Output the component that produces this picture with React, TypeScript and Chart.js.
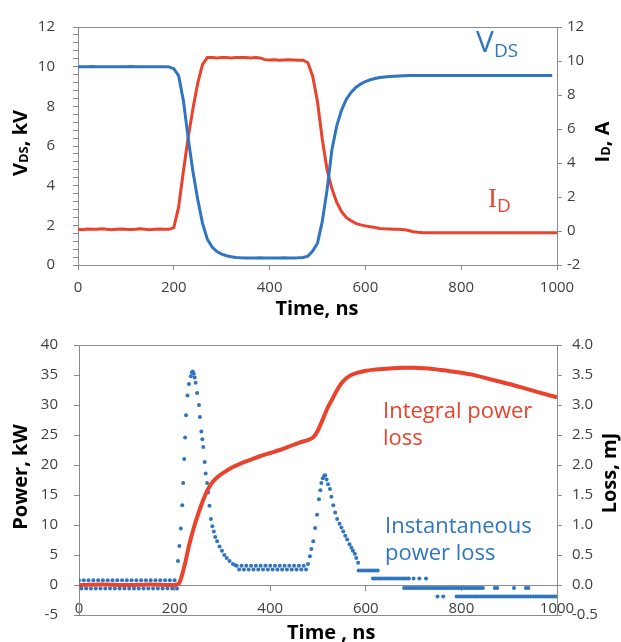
import React, { useEffect, useRef } from 'react';
import { Chart, registerables } from 'chart.js';
Chart.register(...registerables);

const FONT = '"Open Sans", "Noto Sans", sans-serif';
const BLUE = '#2f75c1';
const RED = '#ea432d';
const AXIS = '#8a8a8a';
const TICK_TEXT = '#404040';

// ---------- Top chart: switching waveforms (time step 10 ns) ----------
const waveTime = [
  0, 10, 20, 30, 40, 50, 60, 70, 80, 90, 100, 110, 120, 130, 140, 150, 160, 170, 180, 190,
  200, 210, 220, 230, 240, 250, 260, 270, 280, 290, 300, 310, 320, 330, 340, 350, 360, 370, 380, 390,
  400, 410, 420, 430, 440, 450, 460, 470, 480, 490, 500, 510, 520, 530, 540, 550, 560, 570, 580, 590,
  600, 610, 620, 630, 640, 650, 660, 670, 680, 690, 700, 710, 720, 730, 740, 750, 760, 770, 780, 790,
  800, 810, 820, 830, 840, 850, 860, 870, 880, 890, 900, 910, 920, 930, 940, 950, 960, 970, 980, 990, 1000,
];
const vdsKV = [
  10.0, 10.0, 10.0, 10.01, 10.0, 10.0, 10.0, 10.0, 10.0, 10.0, 10.0, 10.01, 10.0, 10.0, 10.0, 10.0, 10.0, 10.0, 10.0, 9.99,
  9.9, 9.55, 8.3, 6.4, 4.7, 3.3, 2.1, 1.3, 0.9, 0.68, 0.55, 0.47, 0.42, 0.38,
  0.36, 0.35, 0.35, 0.35, 0.36, 0.35, 0.35, 0.35, 0.35, 0.36, 0.35, 0.35, 0.36, 0.38,
  0.45, 0.7, 1.1, 2.2, 3.8, 5.8, 7.0, 7.8, 8.35, 8.7, 8.95, 9.12, 9.25, 9.34, 9.4, 9.45, 9.48, 9.5,
  9.52, 9.53, 9.54, 9.55, 9.55, 9.56, 9.55, 9.55, 9.56, 9.55, 9.55, 9.55, 9.56, 9.55, 9.55, 9.55, 9.56,
  9.55, 9.55, 9.55, 9.56, 9.55, 9.55, 9.55, 9.55, 9.56, 9.55, 9.55, 9.55, 9.56, 9.55, 9.55, 9.55, 9.55,
];
const idA = [
  0.1, 0.08, 0.12, 0.1, 0.1, 0.13, 0.1, 0.08, 0.1, 0.12, 0.1, 0.09, 0.1, 0.13, 0.1, 0.08, 0.1, 0.12, 0.1, 0.1,
  0.2, 1.4, 3.5, 5.5, 7.2, 8.7, 9.8, 10.2,
  10.2, 10.17, 10.2, 10.2, 10.17, 10.2, 10.2, 10.2, 10.17, 10.2, 10.18,
  10.08, 10.06, 10.07, 10.04, 10.06, 10.07, 10.06, 10.04, 10.05,
  9.9, 9.1, 7.6, 5.4, 3.6, 2.5, 1.7, 1.15, 0.8, 0.6, 0.45, 0.36, 0.3, 0.25, 0.2,
  0.15, 0.13, 0.12, 0.1, 0.1, 0.08, 0.03,
  -0.05, -0.08, -0.1, -0.1, -0.1, -0.11, -0.1, -0.1, -0.1, -0.11, -0.1, -0.1, -0.1, -0.1, -0.11, -0.1,
  -0.1, -0.1, -0.11, -0.1, -0.1, -0.1, -0.1, -0.11, -0.1, -0.1, -0.1, -0.1, -0.11, -0.1, -0.1,
];

// ---------- Bottom chart: integral loss (mJ) ----------
const lossTime = [
  0, 50, 100, 150, 200, 210, 220, 230, 240, 250, 260, 270, 280, 290, 300,
  320, 340, 360, 380, 400, 420, 440, 460, 480,
  490, 500, 510, 520, 530, 540, 550, 560, 570, 580,
  600, 620, 650, 680, 700, 740, 780, 820, 860, 900, 940, 980, 1000,
];
const lossMJ = [
  0.0, 0.01, 0.0, 0.01, 0.0, 0.04, 0.3, 0.65, 0.95, 1.2, 1.42, 1.6, 1.72, 1.8, 1.86,
  1.96, 2.03, 2.09, 2.15, 2.2, 2.25, 2.31, 2.37, 2.42,
  2.46, 2.58, 2.76, 2.95, 3.1, 3.25, 3.37, 3.45, 3.5, 3.53,
  3.57, 3.59, 3.61, 3.62, 3.62, 3.6, 3.56, 3.51, 3.43, 3.35, 3.26, 3.17, 3.13,
];

// ---------- Bottom chart: instantaneous power (kW), scattered samples ----------
const offTime = [
  0, 5, 10, 15, 20, 25, 30, 35, 40, 45, 50, 55, 60, 65, 70, 75, 80, 85, 90, 95, 100,
  105, 110, 115, 120, 125, 130, 135, 140, 145, 150, 155, 160, 165, 170, 175, 180, 185, 190, 195, 200, 205,
];
const offKW = [
  0.8, -0.6, 0.8, -0.6, 0.8, -0.6, 0.8, -0.6, 0.8, -0.6, 0.8, -0.6, 0.8, -0.6, 0.8, -0.6, 0.8, -0.6, 0.8, -0.6, 0.8,
  -0.6, 0.8, -0.6, 0.8, -0.6, 0.8, -0.6, 0.8, -0.6, 0.8, -0.6, 0.8, -0.6, 0.8, -0.6, 0.8, -0.6, 0.8, -0.6, 0.8, -0.6,
];
const turnOnTime = [
  207, 210, 213, 216, 218, 220, 222, 224, 227, 230, 234, 236, 238, 240, 242, 244, 247, 251, 253, 256,
  258, 260, 263, 265, 268, 270, 273, 276, 279, 282, 285, 289, 294, 299, 304, 309, 315, 322, 327,
];
const turnOnKW = [
  4, 6.5, 9.4, 13.3, 17, 21, 24.6, 28.3, 31.6, 33.5, 34.8, 35.4, 35.6, 35.2, 34.6, 33.7, 32, 30, 28, 25.6,
  24.3, 23, 20.5, 18.6, 17, 15.4, 13.2, 11, 9.8, 8.9, 8, 7.3, 6.4, 5.7, 5.0, 4.5, 4.0, 3.5, 3.3,
];
const onTime = [
  330, 335, 340, 345, 350, 355, 360, 365, 370, 375, 380, 385, 390, 395, 400,
  405, 410, 415, 420, 425, 430, 435, 440, 445, 450, 455, 460, 465, 470, 475,
];
const onKW = [
  3.2, 2.6, 3.2, 2.6, 3.2, 2.6, 3.2, 2.6, 3.2, 2.6, 3.2, 2.6, 3.2, 2.6, 3.2,
  2.6, 3.2, 2.6, 3.2, 2.6, 3.2, 2.6, 3.2, 2.6, 3.2, 2.6, 3.2, 2.6, 3.2, 2.6,
];
const turnOffTime = [
  479, 483, 486, 490, 494, 498, 502, 505, 507, 510, 513, 515, 518, 521, 525,
  528, 532, 536, 540, 545, 549, 553, 557, 561, 566, 570, 573, 577, 580, 584,
];
const turnOffKW = [
  3.5, 4.8, 6, 7.3, 9.5, 11.7, 14.3, 15.8, 17, 17.8, 18.2, 18.3, 17.6, 16.8, 16,
  14.7, 13.3, 12.1, 11, 10.2, 9.6, 8.9, 8.2, 7.6, 6.8, 6.2, 5.7, 5.2, 4.5, 3.7,
];
const tailTime = [
  585, 590, 595, 600, 605, 610, 615, 620, 625,
  615, 620, 625, 630, 635, 640, 645, 650, 655, 660, 665, 670, 675, 680, 685, 690, 700, 712, 726,
  680, 685, 690, 695, 700, 705, 710, 715, 720, 725, 730, 735, 740, 745, 750, 755, 760, 765, 770, 775,
  780, 785, 790, 795, 800, 805, 810, 815, 820, 825, 830, 835, 840, 845, 870, 875, 910, 935, 940,
  750, 762, 790, 795, 800, 805, 810, 815, 820, 825, 830, 835, 840, 845, 850, 855, 860, 865, 870, 875,
  880, 885, 890, 895, 900, 905, 910, 915, 920, 925, 930, 935, 940, 945, 950, 955, 960, 965, 970, 975,
  980, 985, 990, 995, 1000,
];
const tailKW = [
  2.4, 2.4, 2.4, 2.4, 2.4, 2.4, 2.4, 2.4, 2.4,
  1.1, 1.1, 1.1, 1.1, 1.1, 1.1, 1.1, 1.1, 1.1, 1.1, 1.1, 1.1, 1.1, 1.1, 1.1, 1.1, 1.1, 1.1, 1.1,
  -0.5, -0.5, -0.5, -0.5, -0.5, -0.5, -0.5, -0.5, -0.5, -0.5, -0.5, -0.5, -0.5, -0.5, -0.5, -0.5, -0.5, -0.5, -0.5, -0.5,
  -0.5, -0.5, -0.5, -0.5, -0.5, -0.5, -0.5, -0.5, -0.5, -0.5, -0.5, -0.5, -0.5, -0.5, -0.5, -0.5, -0.5, -0.5, -0.5,
  -1.9, -1.9, -1.9, -1.9, -1.9, -1.9, -1.9, -1.9, -1.9, -1.9, -1.9, -1.9, -1.9, -1.9, -1.9, -1.9, -1.9, -1.9, -1.9, -1.9,
  -1.9, -1.9, -1.9, -1.9, -1.9, -1.9, -1.9, -1.9, -1.9, -1.9, -1.9, -1.9, -1.9, -1.9, -1.9, -1.9, -1.9, -1.9, -1.9, -1.9,
  -1.9, -1.9, -1.9, -1.9, -1.9,
];

// ---------- Axis tick settings ----------
const timeTicks = { min: 0, max: 1000, step: 200 };
const vdsAxis = { min: 0, max: 12, minor: 0.4, major: 2 };
const idAxis = { min: -2, max: 12, step: 2 };
const powerAxis = { min: -5, max: 40, step: 5 };
const lossAxis = { min: -0.5, max: 4.0, step: 0.5 };

const pts = (xs: number[], ys: number[]) => xs.map((x, i) => ({ x, y: ys[i] }));

type Part = { t: string; size: number; bold?: boolean; dy?: number; family?: string };

function drawParts(
  ctx: CanvasRenderingContext2D,
  parts: Part[],
  x: number,
  y: number,
  color: string,
  align: 'left' | 'center',
  rotate = false
) {
  ctx.save();
  ctx.translate(x, y);
  if (rotate) ctx.rotate(-Math.PI / 2);
  ctx.fillStyle = color;
  ctx.textBaseline = 'alphabetic';
  ctx.textAlign = 'left';
  const fontOf = (p: Part) => `${p.bold ? 'bold ' : ''}${p.size}px ${p.family || FONT}`;
  let total = 0;
  const widths = parts.map((p) => {
    ctx.font = fontOf(p);
    const w = ctx.measureText(p.t).width;
    total += w;
    return w;
  });
  let cx = align === 'center' ? -total / 2 : 0;
  parts.forEach((p, i) => {
    ctx.font = fontOf(p);
    ctx.fillText(p.t, cx, p.dy || 0);
    cx += widths[i];
  });
  ctx.restore();
}

function hLine(ctx: CanvasRenderingContext2D, x1: number, x2: number, y: number) {
  ctx.save();
  ctx.strokeStyle = AXIS;
  ctx.lineWidth = 1;
  ctx.beginPath();
  const yy = Math.round(y) + 0.5;
  ctx.moveTo(x1, yy);
  ctx.lineTo(x2, yy);
  ctx.stroke();
  ctx.restore();
}

const tickFont = { family: FONT, size: 15 };
const plainNumber = (v: number) => String(v);

function fixedWidth(w: number) {
  return (scale: any) => {
    scale.width = w;
  };
}
function fixedHeight(h: number) {
  return (scale: any) => {
    scale.height = h;
  };
}

function topConfig(): any {
  const textPlugin = {
    id: 'topText',
    afterDraw(chart: any) {
      const ctx = chart.ctx as CanvasRenderingContext2D;
      const a = chart.chartArea;
      hLine(ctx, a.left, a.right, a.top);
      drawParts(ctx, [{ t: 'V', size: 30 }, { t: 'DS', size: 19, dy: 5 }], 476, 52, BLUE, 'left');
      drawParts(
        ctx,
        [{ t: 'I', size: 27, family: '"Liberation Serif", serif' }, { t: 'D', size: 19, dy: 5 }],
        488,
        207,
        RED,
        'left'
      );
      drawParts(
        ctx,
        [{ t: 'V', size: 20, bold: true }, { t: 'DS', size: 13, bold: true, dy: 1 }, { t: ', kV', size: 20, bold: true }],
        27,
        143,
        '#000',
        'center',
        true
      );
      drawParts(
        ctx,
        [{ t: 'I', size: 20, bold: true }, { t: 'D', size: 13, bold: true, dy: 1 }, { t: ', A', size: 20, bold: true }],
        609,
        142,
        '#000',
        'center',
        true
      );
      drawParts(ctx, [{ t: 'Time, ns', size: 20, bold: true }], 317, 315, '#000', 'center');
    },
  };
  return {
    type: 'scatter',
    data: {
      datasets: [
        {
          label: 'VDS',
          data: pts(waveTime, vdsKV),
          yAxisID: 'y',
          showLine: true,
          borderColor: BLUE,
          backgroundColor: BLUE,
          borderWidth: 3,
          pointRadius: 0,
        },
        {
          label: 'ID',
          data: pts(waveTime, idA),
          yAxisID: 'y1',
          showLine: true,
          borderColor: RED,
          backgroundColor: RED,
          borderWidth: 3,
          pointRadius: 0,
        },
      ],
    },
    options: {
      responsive: false,
      animation: false,
      devicePixelRatio: 1,
      layout: { padding: { top: 18, left: 0, right: 0, bottom: 0 } },
      plugins: { legend: { display: false }, tooltip: { enabled: false } },
      scales: {
        x: {
          type: 'linear',
          position: 'bottom',
          min: timeTicks.min,
          max: timeTicks.max,
          afterFit: fixedHeight(55),
          grid: { drawOnChartArea: false, drawTicks: true, tickLength: 5, color: AXIS },
          border: { display: true, color: AXIS, width: 1 },
          ticks: {
            stepSize: timeTicks.step,
            font: tickFont,
            color: TICK_TEXT,
            padding: 9,
            maxRotation: 0,
            callback: plainNumber,
          },
        },
        y: {
          type: 'linear',
          position: 'left',
          min: vdsAxis.min,
          max: vdsAxis.max,
          afterFit: fixedWidth(78),
          grid: { drawOnChartArea: false, drawTicks: true, tickLength: 5, color: AXIS },
          border: { display: true, color: AXIS, width: 1 },
          ticks: {
            stepSize: vdsAxis.minor,
            autoSkip: false,
            font: tickFont,
            color: TICK_TEXT,
            padding: 18,
            callback: (v: number) => {
              const r = v / vdsAxis.major;
              return Math.abs(r - Math.round(r)) < 1e-6 ? String(Math.round(v)) : '';
            },
          },
        },
        y1: {
          type: 'linear',
          position: 'right',
          min: idAxis.min,
          max: idAxis.max,
          afterFit: fixedWidth(64),
          grid: { drawOnChartArea: false, drawTicks: true, tickLength: 5, color: AXIS },
          border: { display: true, color: AXIS, width: 1 },
          ticks: { stepSize: idAxis.step, font: tickFont, color: TICK_TEXT, padding: 5, callback: plainNumber },
        },
      },
    },
    plugins: [textPlugin],
  };
}

function bottomConfig(): any {
  const textPlugin = {
    id: 'bottomText',
    afterDraw(chart: any) {
      const ctx = chart.ctx as CanvasRenderingContext2D;
      const a = chart.chartArea;
      hLine(ctx, a.left, a.right, a.top);
      hLine(ctx, a.left - 5, a.right, a.bottom);
      drawParts(ctx, [{ t: 'Integral power', size: 22 }], 383, 98, RED, 'left');
      drawParts(ctx, [{ t: 'loss', size: 22 }], 383, 125, RED, 'left');
      drawParts(ctx, [{ t: 'Instantaneous', size: 22 }], 385, 213, BLUE, 'left');
      drawParts(ctx, [{ t: 'power loss', size: 22 }], 385, 240, BLUE, 'left');
      drawParts(ctx, [{ t: 'Power, kW', size: 20, bold: true }], 27, 157, '#000', 'center', true);
      drawParts(ctx, [{ t: 'Loss, mJ', size: 20, bold: true }], 616, 153, '#000', 'center', true);
      drawParts(ctx, [{ t: 'Time , ns', size: 20, bold: true }], 287, 319, '#000', 'left');
    },
  };
  const powerDataset = (label: string, xs: number[], ys: number[]) => ({
    label,
    data: pts(xs, ys),
    yAxisID: 'y',
    showLine: false,
    pointRadius: 2,
    pointBorderWidth: 0,
    backgroundColor: BLUE,
    borderColor: BLUE,
  });
  return {
    type: 'scatter',
    data: {
      datasets: [
        {
          label: 'Integral power loss',
          data: pts(lossTime, lossMJ),
          yAxisID: 'y1',
          showLine: true,
          borderColor: RED,
          backgroundColor: RED,
          borderWidth: 4,
          pointRadius: 0,
          tension: 0.3,
        },
        powerDataset('off', offTime, offKW),
        powerDataset('turn-on', turnOnTime, turnOnKW),
        powerDataset('on', onTime, onKW),
        powerDataset('turn-off', turnOffTime, turnOffKW),
        powerDataset('tail', tailTime, tailKW),
      ],
    },
    options: {
      responsive: false,
      animation: false,
      devicePixelRatio: 1,
      layout: { padding: { top: 18, left: 0, right: 0, bottom: 27 } },
      plugins: { legend: { display: false }, tooltip: { enabled: false } },
      scales: {
        x: {
          type: 'linear',
          position: { y: 0 },
          min: timeTicks.min,
          max: timeTicks.max,
          grid: { drawOnChartArea: false, drawTicks: true, tickLength: 5, color: AXIS },
          border: { display: true, color: AXIS, width: 1 },
          ticks: {
            stepSize: timeTicks.step,
            font: tickFont,
            color: TICK_TEXT,
            padding: 10,
            maxRotation: 0,
            callback: plainNumber,
          },
        },
        y: {
          type: 'linear',
          position: 'left',
          min: powerAxis.min,
          max: powerAxis.max,
          afterFit: fixedWidth(79),
          grid: { drawOnChartArea: false, drawTicks: true, tickLength: 5, color: AXIS },
          border: { display: true, color: AXIS, width: 1 },
          ticks: { stepSize: powerAxis.step, font: tickFont, color: TICK_TEXT, padding: 16, callback: plainNumber },
        },
        y1: {
          type: 'linear',
          position: 'right',
          min: lossAxis.min,
          max: lossAxis.max,
          afterFit: fixedWidth(64),
          grid: { drawOnChartArea: false, drawTicks: true, tickLength: 5, color: AXIS },
          border: { display: true, color: AXIS, width: 1 },
          ticks: {
            stepSize: lossAxis.step,
            font: tickFont,
            color: TICK_TEXT,
            padding: 10,
            callback: (v: number) => Number(v).toFixed(1),
          },
        },
      },
    },
    plugins: [textPlugin],
  };
}

export default function App() {
  const topRef = useRef<HTMLCanvasElement>(null);
  const botRef = useRef<HTMLCanvasElement>(null);
  useEffect(() => {
    const c1 = new Chart(topRef.current as HTMLCanvasElement, topConfig());
    const c2 = new Chart(botRef.current as HTMLCanvasElement, bottomConfig());
    return () => {
      c1.destroy();
      c2.destroy();
    };
  }, []);
  return (
    <div
      style={{
        position: 'absolute',
        left: 0,
        top: 0,
        width: 621,
        height: 642,
        background: '#fff',
        overflow: 'hidden',
      }}
    >
      <canvas
        ref={topRef}
        width={621}
        height={320}
        style={{ position: 'absolute', left: 0, top: 0, width: 621, height: 320 }}
      />
      <canvas
        ref={botRef}
        width={621}
        height={322}
        style={{ position: 'absolute', left: 0, top: 320, width: 621, height: 322 }}
      />
    </div>
  );
}
